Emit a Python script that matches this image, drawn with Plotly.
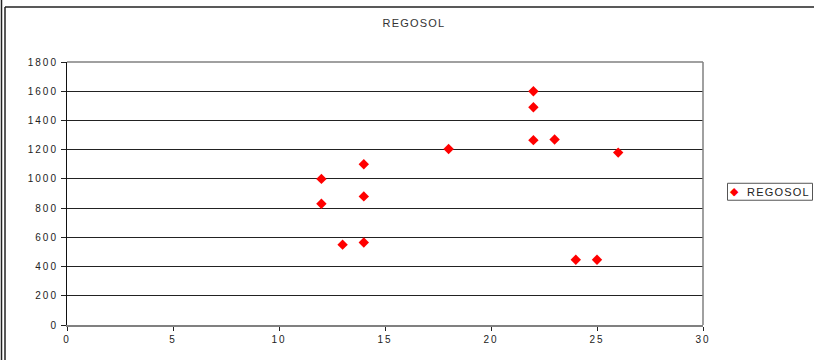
import plotly.graph_objects as go

# Data
x_vals = [12, 12, 13, 14, 14, 14, 18, 22, 22, 22, 23, 24, 25, 26]
y_vals = [1000, 830, 550, 1100, 880, 565, 1205, 1600, 1490, 1265, 1270, 447, 447, 1180]
series_name = "REGOSOL"
chart_title = "REGOSOL"
x_ticks = [0, 5, 10, 15, 20, 25, 30]
y_ticks = [0, 200, 400, 600, 800, 1000, 1200, 1400, 1600, 1800]

W, H = 814, 360
L, R, T, B = 67, 703, 61.5, 325


def px_x(p):
    return (p - L) / (R - L)


def px_y(p):
    return (B - p) / (B - T)


def spaced(s, sp):
    return f'<span style="letter-spacing:{sp}px">{s}</span>'


FONT = "Liberation Sans, Arial, sans-serif"

fig = go.Figure()
fig.add_trace(go.Scatter(
    x=x_vals, y=y_vals, mode="markers", name=series_name, showlegend=False,
    marker=dict(symbol="diamond", size=8, color="#FF0000", line=dict(width=0)),
))

shapes = [
    # outer frame lines
    dict(type="line", xref="paper", yref="paper", x0=px_x(1.5), x1=px_x(1.5),
         y0=px_y(-2), y1=px_y(H + 5), line=dict(color="#222", width=1.5)),
    dict(type="line", xref="paper", yref="paper", x0=px_x(5), x1=px_x(5),
         y0=px_y(6.5), y1=px_y(H + 5), line=dict(color="#222", width=1.5)),
    dict(type="line", xref="paper", yref="paper", x0=px_x(5), x1=px_x(W + 5),
         y0=px_y(6.5), y1=px_y(6.5), line=dict(color="#222", width=1.5)),
    # plot area border (top/right gray)
    dict(type="line", xref="paper", yref="paper", x0=0, x1=1, y0=1, y1=1,
         line=dict(color="#808080", width=1.5), layer="above"),
    dict(type="line", xref="paper", yref="paper", x0=1, x1=1, y0=0, y1=1,
         line=dict(color="#808080", width=1.5), layer="above"),
    # legend box
    dict(type="rect", xref="paper", yref="paper", x0=px_x(727.5), x1=px_x(812.5),
         y0=px_y(200), y1=px_y(183), line=dict(color="#555", width=1),
         fillcolor="white"),
]

annotations = [
    dict(text='<span style="color:#FF0000">\u25c6</span>', xref="paper", yref="paper",
         x=px_x(734.5), y=px_y(191.5), xanchor="center", yanchor="middle",
         showarrow=False, font=dict(family="DejaVu Sans", size=11, color="#FF0000")),
    dict(text=spaced(series_name, 1.2), xref="paper", yref="paper",
         x=px_x(745), y=px_y(191.5), xanchor="left", yanchor="middle",
         showarrow=False, font=dict(family=FONT, size=11, color="#222")),
]

fig.update_layout(
    width=W, height=H,
    margin=dict(l=L, r=W - R, t=T, b=H - B),
    paper_bgcolor="white", plot_bgcolor="white",
    font=dict(family=FONT, size=10, color="#222"),
    title=dict(text=spaced(chart_title, 1.2), x=px_x(414), xref="paper",
               y=1 - 23 / H, yref="container", xanchor="center", yanchor="middle",
               font=dict(family=FONT, size=11, color="#333")),
    showlegend=False,
    shapes=shapes,
    annotations=annotations,
    xaxis=dict(range=[0, 30], tickvals=x_ticks,
               ticktext=[spaced(str(v), 2) for v in x_ticks],
               showgrid=False, zeroline=False, showline=True,
               linecolor="#808080", linewidth=2, ticks="outside",
               ticklen=4, tickcolor="#222", tickwidth=1,
               tickfont=dict(family=FONT, size=10, color="#222")),
    yaxis=dict(range=[0, 1800], tickvals=y_ticks,
               ticktext=[spaced(str(v), 2) for v in y_ticks],
               showgrid=True, gridcolor="#222", gridwidth=1,
               zeroline=False, showline=True, linecolor="#111", linewidth=1,
               ticks="outside", ticklen=5, tickcolor="#222", tickwidth=1,
               ticklabelstandoff=1,
               tickfont=dict(family=FONT, size=10, color="#222")),
)

fig.write_html("out.html")
